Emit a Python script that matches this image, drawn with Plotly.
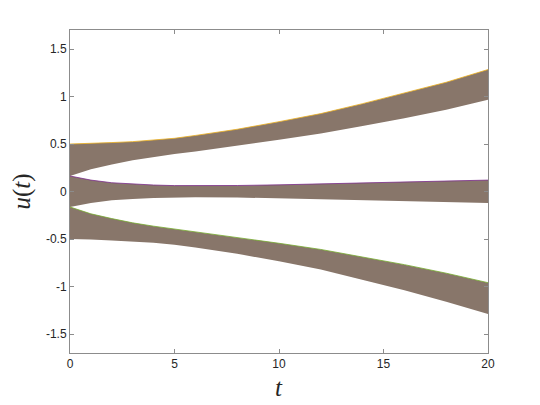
import plotly.graph_objects as go

# time samples
t = [0, 1, 2, 3, 4, 5, 6, 8, 10, 12, 14, 16, 18, 20]

# envelope of the upper bundle
upper_top = [0.50, 0.505, 0.515, 0.525, 0.54, 0.56, 0.59, 0.655, 0.735, 0.82, 0.925, 1.035, 1.15, 1.284]
upper_bot = [0.163, 0.235, 0.285, 0.33, 0.365, 0.395, 0.42, 0.48, 0.545, 0.61, 0.69, 0.77, 0.86, 0.965]

# envelope of the middle bundle
mid_top = [0.163, 0.12, 0.092, 0.078, 0.068, 0.062, 0.06, 0.063, 0.07, 0.08, 0.092, 0.102, 0.11, 0.12]
mid_bot = [-0.163, -0.12, -0.092, -0.078, -0.068, -0.062, -0.06, -0.063, -0.07, -0.08, -0.092, -0.102, -0.11, -0.12]

# envelope of the lower bundle
low_top = [-0.163, -0.235, -0.285, -0.33, -0.365, -0.395, -0.42, -0.48, -0.545, -0.61, -0.69, -0.77, -0.86, -0.96]
low_bot = [-0.50, -0.505, -0.515, -0.525, -0.54, -0.56, -0.59, -0.655, -0.735, -0.82, -0.93, -1.04, -1.16, -1.29]

x_ticks = [0, 5, 10, 15, 20]
y_ticks = [-1.5, -1, -0.5, 0, 0.5, 1, 1.5]
y_tick_labels = ["-1.5", "-1", "-0.5", "0", "0.5", "1", "1.5"]

band_color = "rgb(136,118,106)"
bands = [
    (upper_top, upper_bot, "#EDB120"),
    (mid_top, mid_bot, "#7E2F8E"),
    (low_top, low_bot, "#77AC30"),
]

fig = go.Figure()
for top, bot, top_col in bands:
    fig.add_trace(go.Scatter(
        x=t + t[::-1], y=top + bot[::-1],
        fill="toself", fillcolor=band_color,
        mode="lines", line=dict(width=0, color=band_color),
        hoverinfo="skip", showlegend=False,
    ))
    fig.add_trace(go.Scatter(
        x=t, y=top, mode="lines",
        line=dict(width=1, color=top_col),
        hoverinfo="skip", showlegend=False, opacity=0.8,
    ))

axis_common = dict(
    showline=True, linecolor="#8c8c8c", linewidth=1, mirror="ticks",
    ticks="inside", ticklen=4, tickcolor="#8c8c8c",
    showgrid=False, zeroline=False,
    tickfont=dict(family="Liberation Sans, Arial", size=12, color="#262626"),
)

# the page adds an 8px body margin, so the figure is sized/offset to compensate
fig.update_layout(
    width=532, height=397,
    margin=dict(l=62, r=52, t=22, b=52),
    paper_bgcolor="white", plot_bgcolor="white",
    xaxis=dict(range=[0, 20], tickvals=x_ticks, **axis_common),
    yaxis=dict(range=[-1.7, 1.7], tickvals=y_ticks, ticktext=y_tick_labels, **axis_common),
    annotations=[
        dict(text="<i>u</i>(<i>t</i>)", xref="paper", yref="paper", x=0, y=0.5,
             xanchor="center", yanchor="middle", xshift=-49, textangle=-90,
             showarrow=False, font=dict(family="Liberation Serif, Times New Roman", size=25, color="#262626")),
        dict(text="<i>t</i>", xref="paper", yref="paper", x=0.5, y=0,
             xanchor="center", yanchor="middle", yshift=-34,
             showarrow=False, font=dict(family="Liberation Serif, Times New Roman", size=25, color="#262626")),
    ],
)

fig.write_html("out.html")
